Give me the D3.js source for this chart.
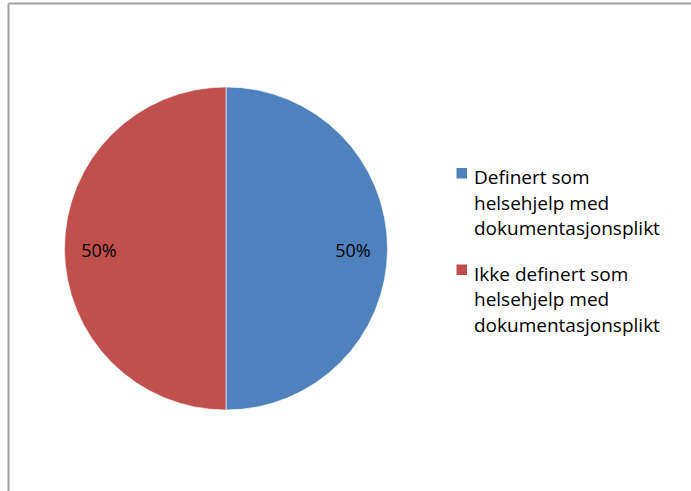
<!DOCTYPE html>
<html>
<head>
<meta charset="utf-8">
<script src="https://cdn.jsdelivr.net/npm/d3@7"></script>
<style>
  html, body { margin: 0; padding: 0; background: #fff; }
  svg { display: block; }
  text { font-family: "Open Sans", "Noto Sans", sans-serif; fill: #000; }
</style>
</head>
<body>
<svg id="chart" width="691" height="491"></svg>
<script>
const categories = [
  ["Definert som", "helsehjelp med", "dokumentasjonsplikt"],
  ["Ikke definert som", "helsehjelp med", "dokumentasjonsplikt"]
];
const values = [50, 50];
const labels = ["50%", "50%"];
const colors = ["#4F81BD", "#C0504D"];

const svg = d3.select("#chart");

// frame
svg.append("line").attr("x1", 8.5).attr("x2", 8.5).attr("y1", 3.5).attr("y2", 491)
  .attr("stroke", "#a0a0a0").attr("stroke-width", 2);
svg.append("line").attr("x1", 8.5).attr("x2", 691).attr("y1", 3.5).attr("y2", 3.5)
  .attr("stroke", "#a0a0a0").attr("stroke-width", 2);

const cx = 226, cy = 248.5, r = 161.5;
const pie = d3.pie().sort(null).value(d => d);
const arcs = pie(values);
const arc = d3.arc().innerRadius(0).outerRadius(r);
const labelArc = d3.arc().innerRadius(127).outerRadius(127);

const g = svg.append("g").attr("transform", `translate(${cx},${cy})`);
g.selectAll("path").data(arcs).join("path")
  .attr("d", arc)
  .attr("fill", (d, i) => colors[i])
  .attr("stroke", "#fff").attr("stroke-width", 0.6);

g.selectAll("text.pct").data(arcs).join("text")
  .attr("class", "pct")
  .attr("transform", d => `translate(${labelArc.centroid(d)})`)
  .attr("text-anchor", "middle")
  .attr("dy", "0.47em")
  .attr("font-size", 18)
  .text((d, i) => labels[i]);

// legend
const lg = svg.append("g");
const itemY = [168, 264.5];
categories.forEach((lines, i) => {
  lg.append("rect").attr("x", 456.5).attr("y", itemY[i]).attr("width", 10.5).attr("height", 10.5)
    .attr("fill", colors[i]);
  const t = lg.append("text").attr("x", 474).attr("y", itemY[i] + 16).attr("font-size", 19);
  lines.forEach((ln, j) => {
    t.append("tspan").attr("x", 474).attr("dy", j === 0 ? 0 : 25.5).text(ln);
  });
});
</script>
</body>
</html>
